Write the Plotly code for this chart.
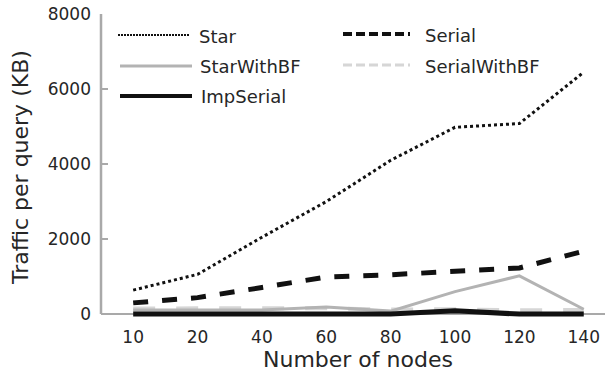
import plotly.graph_objects as go

# ---- data ----
nodes = ["10", "20", "40", "60", "80", "100", "120", "140"]
star = [640, 1060, 2050, 3000, 4100, 4980, 5080, 6450]
serial = [300, 440, 710, 990, 1050, 1150, 1230, 1680]
star_bf = [110, 110, 110, 190, 80, 600, 1020, 130]
serial_bf = [150, 150, 150, 160, 120, 130, 100, 110]
imp_serial = [0, 0, 0, 0, 0, 90, 0, 0]

y_ticks = [0, 2000, 4000, 6000, 8000]

FONT = "DejaVu Sans"
TXT = "#262626"
AXC = "#a9a9a9"

styles = {
    "Star": dict(color="#111111", width=3, dash="dot"),
    "Serial": dict(color="#111111", width=5, dash="15px,14px"),
    "StarWithBF": dict(color="#b3b3b3", width=3, dash="solid"),
    "SerialWithBF": dict(color="#d6d6d6", width=4, dash="22px,21px"),
    "ImpSerial": dict(color="#111111", width=5, dash="solid"),
}
series = {
    "Star": star,
    "Serial": serial,
    "StarWithBF": star_bf,
    "SerialWithBF": serial_bf,
    "ImpSerial": imp_serial,
}
draw_order = ["SerialWithBF", "StarWithBF", "ImpSerial", "Serial", "Star"]

fig = go.Figure()
for name in draw_order:
    fig.add_trace(go.Scatter(x=nodes, y=series[name], mode="lines", name=name,
                             line=styles[name], showlegend=False))

# plot-area pixel geometry helpers (layout only)
L, R, T, B = 101, 605, 14, 319
def px(x):
    return (x - L) / (R - L)
def py(y):
    return (B - y) / (B - T)

shapes = []
annotations = []

# y axis line (from 0 to top)
shapes.append(dict(type="line", xref="paper", yref="y", x0=0, x1=0, y0=0, y1=8000,
                   line=dict(color=AXC, width=2.5), layer="below"))

# manual legend, two columns
legend_layout = [
    ("Star", 118, 190, 197, 35),
    ("StarWithBF", 120, 192, 198, 66),
    ("ImpSerial", 120, 192, 199, 96),
    ("Serial", 343, 410, 423, 34),
    ("SerialWithBF", 343, 410, 423, 65),
]
legend_line = {
    "Star": dict(color="#111111", width=2, dash="2px,1px"),
    "Serial": dict(color="#111111", width=4, dash="9px,4px"),
    "StarWithBF": dict(color="#b3b3b3", width=3),
    "SerialWithBF": dict(color="#d6d6d6", width=3, dash="9px,4px"),
    "ImpSerial": dict(color="#111111", width=4),
}
for name, x0, x1, xt, yr in legend_layout:
    shapes.append(dict(type="line", xref="paper", yref="paper",
                       x0=px(x0), x1=px(x1), y0=py(yr), y1=py(yr),
                       line=legend_line[name]))
    annotations.append(dict(text=name, xref="paper", yref="paper",
                            x=px(xt), y=py(yr + 1), xanchor="left", yanchor="middle",
                            showarrow=False, font=dict(family=FONT, size=18, color=TXT)))

# axis titles
annotations.append(dict(text="Number of nodes", xref="x", yref="paper", x=3.5,
                        y=py(359), xanchor="center", yanchor="middle", showarrow=False,
                        font=dict(family=FONT, size=22, color=TXT)))
annotations.append(dict(text="Traffic per query (KB)", xref="paper", yref="paper",
                        x=px(21), y=py(168), xanchor="center", yanchor="middle",
                        textangle=-90, showarrow=False,
                        font=dict(family=FONT, size=22, color=TXT)))

fig.update_layout(
    width=605, height=377,
    margin=dict(l=L, r=605 - R, t=T, b=377 - B, pad=0, autoexpand=False),
    paper_bgcolor="white", plot_bgcolor="white",
    showlegend=False,
    shapes=shapes, annotations=annotations,
    xaxis=dict(type="category", range=[-0.5, 7.33], showline=False, showgrid=False,
               automargin=False,
               zeroline=False, ticks="outside", ticklen=3, tickcolor="rgba(0,0,0,0)",
               tickfont=dict(family=FONT, size=17, color=TXT)),
    yaxis=dict(range=[-130, 8000], tickvals=y_ticks, showgrid=False, showline=False,
               automargin=False,
               zeroline=True, zerolinecolor=AXC, zerolinewidth=2.5,
               ticks="inside", ticklen=7, tickwidth=2, tickcolor=AXC,
               ticklabelstandoff=9,
               tickfont=dict(family=FONT, size=17, color=TXT)),
)

fig.write_html("out.html",
               config={"displayModeBar": False, "staticPlot": True},
               post_script="document.body.style.margin='0';document.body.style.overflow='hidden';")
